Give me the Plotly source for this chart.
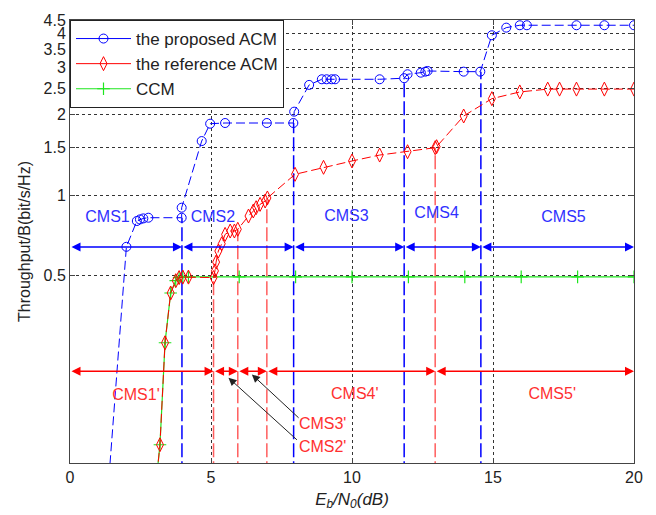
import numpy as np
import plotly.graph_objects as go

# ---------------- data ----------------
prop_x = [1.0, 2.0, 2.37, 2.48, 2.6, 2.78, 3.96, 3.96, 4.67, 4.97, 5.5, 6.98, 7.92, 7.95,
          8.48, 8.93, 9.1, 9.28, 9.4, 10.98, 11.85, 11.97, 12.44, 12.6, 12.68, 13.96,
          14.55, 14.96, 15.47, 15.95, 16.2, 17.96, 18.95, 20.0]
prop_y = [0.026, 0.641, 0.80, 0.811, 0.818, 0.823, 0.823, 0.897, 1.59, 1.846, 1.857, 1.857,
          1.857, 2.047, 2.576, 2.704, 2.704, 2.704, 2.704, 2.704, 2.729, 2.823, 2.862, 2.887,
          2.904, 2.887, 2.887, 3.947, 4.214, 4.302, 4.302, 4.302, 4.302, 4.302]

ref_x = [2.9, 3.19, 3.37, 3.57, 3.75, 3.87, 4.0, 4.2, 5.09, 5.14, 5.18, 5.26, 5.38, 5.5,
         5.68, 5.83, 5.95, 6.33, 6.5, 6.6, 6.74, 6.92, 7.0, 7.98, 8.99, 10.0, 10.98, 11.97,
         12.95, 13.0, 13.96, 14.96, 15.95, 16.94, 17.36, 17.96, 18.95, 20.0]
ref_y = [0.058, 0.117, 0.281, 0.431, 0.479, 0.492, 0.494, 0.494, 0.492, 0.521, 0.562, 0.618,
         0.658, 0.713, 0.734, 0.734, 0.745, 0.835, 0.872, 0.897, 0.923, 0.95, 0.975, 1.195,
         1.269, 1.34, 1.41, 1.451, 1.502, 1.515, 1.972, 2.289, 2.425, 2.485, 2.485, 2.485,
         2.485, 2.485]

ccm_x = [2.9, 3.19, 3.37, 3.57, 3.75, 3.87, 4.0, 4.2, 6, 8, 10, 12, 14, 16, 18, 20]
ccm_y = [0.058, 0.117, 0.281, 0.431, 0.479, 0.492, 0.495, 0.495, 0.495, 0.495, 0.495,
         0.495, 0.495, 0.495, 0.495, 0.495]

# CMS region boundaries (switching thresholds) and the curve value at each threshold
prop_bounds = [0, 3.97, 7.93, 11.85, 14.57, 20]
prop_bound_tops = [0.823, 1.857, 2.729, 2.887]
ref_bounds = [0, 5.09, 5.95, 6.98, 12.95, 20]
ref_bound_tops = [0.492, 0.745, 0.975, 1.502]
prop_arrow_level = 0.64
ref_arrow_level = 0.22

prop_labels = ["CMS1", "CMS2", "CMS3", "CMS4", "CMS5"]
prop_label_x = [1.33, 5.07, 9.8, 13.0, 17.5]
prop_label_y = [0.823, 0.823, 0.83, 0.847, 0.818]
ref_labels = ["CMS1'", "CMS4'", "CMS5'", "CMS3'", "CMS2'"]
ref_label_x = [2.34, 10.1, 17.1, 8.96, 8.96]
ref_label_y = [0.178, 0.18, 0.18, 0.139, 0.1138]

# pointer arrows from the CMS3' / CMS2' labels to their narrow regions
ptr_tip_x = [6.45, 5.62]
ptr_tip_y = [0.214, 0.208]
ptr_tail_x = [8.16, 8.1]
ptr_tail_y = [0.1457, 0.1206]

y_ticks = [0.5, 1, 1.5, 2, 2.5, 3, 3.5, 4, 4.5]
y_tick_text = ["0.5", "1", "1.5", "2", "2.5", "3", "3.5", "4", "4.5"]
x_ticks = [0, 5, 10, 15, 20]
y_min, y_max = 0.1, 4.5

BLUE = "#0000ff"
RED = "#ff0000"
GREEN = "#1ee61e"
FONT = "Liberation Sans, Arial, sans-serif"

fig = go.Figure()

# vertical dashed threshold lines
for b, top in zip(prop_bounds[1:-1], prop_bound_tops):
    fig.add_trace(go.Scatter(x=[b, b], y=[y_min * 0.9, top], mode="lines",
                             line=dict(color=BLUE, width=1.5, dash="14px,4px"),
                             showlegend=False, hoverinfo="skip"))
for b, top in zip(ref_bounds[1:-1], ref_bound_tops):
    fig.add_trace(go.Scatter(x=[b, b], y=[y_min * 0.9, top], mode="lines",
                             line=dict(color="rgba(255,40,40,0.75)", width=1.5, dash="14px,4px"),
                             showlegend=False, hoverinfo="skip"))

# curves
fig.add_trace(go.Scatter(x=ccm_x, y=ccm_y, mode="lines+markers", showlegend=False,
                         line=dict(color=GREEN, width=1.2),
                         marker=dict(symbol="cross-thin-open", size=9,
                                     line=dict(color=GREEN, width=1.2))))
fig.add_trace(go.Scatter(x=ref_x, y=ref_y, mode="lines+markers", showlegend=False,
                         line=dict(color=RED, width=1, dash="9px,4px"),
                         marker=dict(symbol="diamond-tall-open", size=10, color=RED,
                                     line=dict(color=RED, width=1))))
fig.add_trace(go.Scatter(x=prop_x, y=prop_y, mode="lines+markers", showlegend=False,
                         line=dict(color=BLUE, width=1, dash="9px,4px"),
                         marker=dict(symbol="circle-open", size=9, color=BLUE,
                                     line=dict(color=BLUE, width=1))))

# legend entries (solid samples)
fig.add_trace(go.Scatter(x=[None], y=[None], mode="lines+markers", name="the proposed ACM",
                         line=dict(color=BLUE, width=1),
                         marker=dict(symbol="circle-open", size=9, color=BLUE)))
fig.add_trace(go.Scatter(x=[None], y=[None], mode="lines+markers", name="the reference ACM",
                         line=dict(color=RED, width=1),
                         marker=dict(symbol="diamond-tall-open", size=10, color=RED)))
fig.add_trace(go.Scatter(x=[None], y=[None], mode="lines+markers", name="CCM",
                         line=dict(color=GREEN, width=1.2),
                         marker=dict(symbol="cross-thin-open", size=9,
                                     line=dict(color=GREEN, width=1.2))))

# region labels
fig.add_trace(go.Scatter(x=prop_label_x, y=prop_label_y, mode="text", text=prop_labels,
                         textfont=dict(color="#3030ff", size=16, family=FONT),
                         showlegend=False, hoverinfo="skip"))
fig.add_trace(go.Scatter(x=ref_label_x, y=ref_label_y, mode="text", text=ref_labels,
                         textfont=dict(color="#ff3030", size=16, family=FONT),
                         showlegend=False, hoverinfo="skip"))

# double-headed range arrows
def range_arrows(bounds, level, color):
    ly = float(np.log10(level))
    for a, b in zip(bounds[:-1], bounds[1:]):
        fig.add_annotation(x=b, y=ly, ax=a, ay=ly, xref="x", yref="y", axref="x", ayref="y",
                           text="", showarrow=True, arrowside="end+start",
                           arrowhead=2, startarrowhead=2, arrowsize=1.2, startarrowsize=1.2,
                           arrowwidth=1.5, arrowcolor=color, standoff=0, startstandoff=0)

range_arrows(prop_bounds, prop_arrow_level, BLUE)
range_arrows(ref_bounds, ref_arrow_level, RED)

for tx, ty, sx, sy in zip(ptr_tip_x, ptr_tip_y, ptr_tail_x, ptr_tail_y):
    fig.add_annotation(x=tx, y=float(np.log10(ty)), ax=sx, ay=float(np.log10(sy)),
                       xref="x", yref="y", axref="x", ayref="y", text="", showarrow=True,
                       arrowhead=2, arrowsize=1.6, arrowwidth=1, arrowcolor="#222222",
                       standoff=0, startstandoff=0)

axis_common = dict(showline=True, linecolor="#444444", linewidth=1, mirror="ticks",
                   ticks="inside", ticklen=5, tickcolor="#444444", automargin=False,
                   showgrid=True, gridcolor="#333333", gridwidth=1, griddash="3px,3px",
                   zeroline=False, tickfont=dict(size=16, color="#222222", family=FONT))

fig.update_xaxes(range=[0, 20], tickvals=x_ticks,
                 title=dict(text="<i>E<sub>b</sub>/N<sub>0</sub>(dB)</i>", standoff=7,
                            font=dict(size=17, color="#222222", family=FONT)),
                 **axis_common)
fig.update_yaxes(type="log", range=[np.log10(y_min), np.log10(y_max)],
                 tickvals=y_ticks, ticktext=y_tick_text,
                 title=dict(text="Throughput/B(bit/s/Hz)", standoff=8,
                            font=dict(size=16, color="#222222", family=FONT)),
                 **axis_common)

# the page body adds an 8px offset, so the figure is 8px smaller and margins shifted
fig.update_layout(
    width=648, height=507,
    margin=dict(l=62, r=22, t=12, b=52),
    paper_bgcolor="white", plot_bgcolor="white",
    font=dict(family=FONT, color="#222222"),
    legend=dict(x=0, y=1, xanchor="left", yanchor="top", bgcolor="white",
                bordercolor="#222222", borderwidth=1,
                font=dict(size=17, color="#222222", family=FONT),
                tracegroupgap=0, itemwidth=55),
    showlegend=True,
)

fig.write_html("out.html")
